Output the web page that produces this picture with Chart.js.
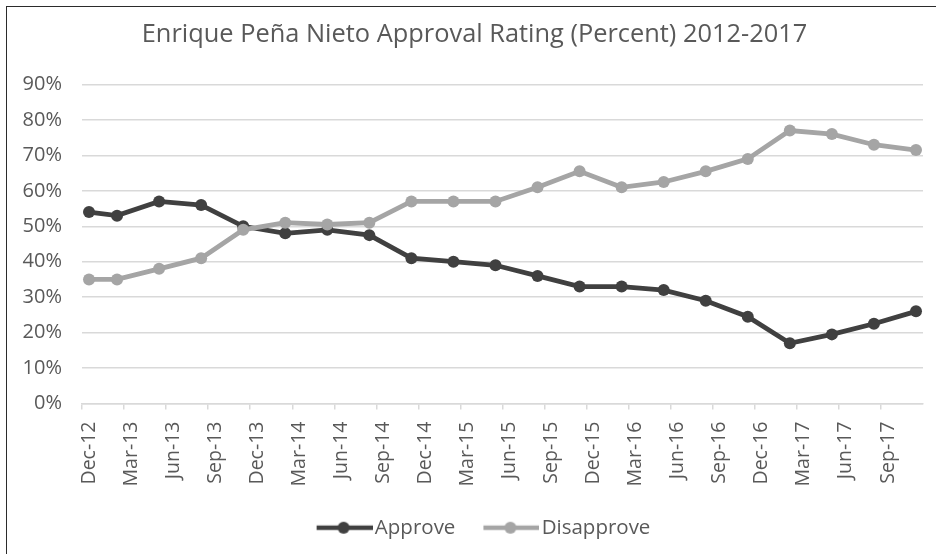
<!DOCTYPE html>
<html>
<head>
<meta charset="utf-8">
<script src="https://cdn.jsdelivr.net/npm/chart.js@4.4.1/dist/chart.umd.min.js"></script>
<style>
  html, body { margin: 0; padding: 0; background: #fff; }
  #wrap { position: relative; width: 936px; height: 554px; }
</style>
</head>
<body>
<div id="wrap"><canvas id="c" width="936" height="554"></canvas></div>
<script>
// Axis months (category axis, one per month)
const axisMonths = [
  'Dec-12','Jan-13','Feb-13','Mar-13','Apr-13','May-13','Jun-13','Jul-13','Aug-13','Sep-13','Oct-13','Nov-13',
  'Dec-13','Jan-14','Feb-14','Mar-14','Apr-14','May-14','Jun-14','Jul-14','Aug-14','Sep-14','Oct-14','Nov-14',
  'Dec-14','Jan-15','Feb-15','Mar-15','Apr-15','May-15','Jun-15','Jul-15','Aug-15','Sep-15','Oct-15','Nov-15',
  'Dec-15','Jan-16','Feb-16','Mar-16','Apr-16','May-16','Jun-16','Jul-16','Aug-16','Sep-16','Oct-16','Nov-16',
  'Dec-16','Jan-17','Feb-17','Mar-17','Apr-17','May-17','Jun-17','Jul-17','Aug-17','Sep-17','Oct-17','Nov-17'
];
// Survey dates of the data points
const surveyDates = [
  'Dec-12','Feb-13','May-13','Aug-13','Nov-13','Feb-14','May-14','Aug-14','Nov-14','Feb-15','May-15',
  'Aug-15','Nov-15','Feb-16','May-16','Aug-16','Nov-16','Feb-17','May-17','Aug-17','Nov-17'
];
const approve = [54, 53, 57, 56, 50, 48, 49, 47.5, 41, 40, 39, 36, 33, 33, 32, 29, 24.5, 17, 19.5, 22.5, 26];
const disapprove = [35, 35, 38, 41, 49, 51, 50.5, 51, 57, 57, 57, 61, 65.5, 61, 62.5, 65.5, 69, 77, 76, 73, 71.5];
const yTicks = [0, 10, 20, 30, 40, 50, 60, 70, 80, 90];
const titleText = 'Enrique Peña Nieto Approval Rating (Percent) 2012-2017';
const seriesNames = ['Approve', 'Disapprove'];
const seriesColors = ['#404040', '#a5a5a5'];

const FONT = "'Open Sans', 'DejaVu Sans', sans-serif";
const TEXT = '#595959';

function legendImage(color) {
  const cv = document.createElement('canvas');
  const L = 26, seg = 56;
  cv.width = L + seg; cv.height = 16;
  const g = cv.getContext('2d');
  g.strokeStyle = color; g.lineWidth = 4.7;
  g.beginPath(); g.moveTo(L, 8); g.lineTo(L + seg, 8); g.stroke();
  g.fillStyle = color;
  g.beginPath(); g.arc(L + seg / 2 - 1, 8, 6, 0, Math.PI * 2); g.fill();
  return cv;
}
const legendImgs = seriesColors.map(legendImage);

const frame = {
  id: 'frame',
  beforeDraw(chart) {
    const ctx = chart.ctx;
    ctx.save();
    ctx.fillStyle = '#fff';
    ctx.fillRect(0, 0, chart.width, chart.height);
    ctx.restore();
  },
  afterDraw(chart) {
    const ctx = chart.ctx;
    ctx.save();
    ctx.strokeStyle = '#2b2b2b';
    ctx.lineWidth = 1;
    ctx.strokeRect(6.5, 6.5, 2000, 2000);
    ctx.restore();
  }
};

const mk = (vals) => surveyDates.map((d, i) => ({ x: d, y: vals[i] }));

new Chart(document.getElementById('c'), {
  type: 'line',
  data: {
    labels: axisMonths,
    datasets: [
      { label: seriesNames[0], data: mk(approve), borderColor: seriesColors[0], backgroundColor: seriesColors[0],
        pointBackgroundColor: seriesColors[0], pointBorderWidth: 0, pointRadius: 6, borderWidth: 4.8, tension: 0, order: 1 },
      { label: seriesNames[1], data: mk(disapprove), borderColor: seriesColors[1], backgroundColor: seriesColors[1],
        pointBackgroundColor: seriesColors[1], pointBorderWidth: 0, pointRadius: 6, borderWidth: 4.8, tension: 0, order: 0 }
    ]
  },
  options: {
    responsive: false,
    animation: false,
    devicePixelRatio: 1,
    layout: { padding: { left: 13, right: 0, top: 5, bottom: 6 } },
    plugins: {
      tooltip: { enabled: false },
      title: {
        display: true, text: titleText, color: TEXT,
        font: { family: FONT, size: 25.4, weight: 'normal', lineHeight: 1.2 },
        padding: { top: 15, bottom: 34 }
      },
      legend: {
        position: 'bottom',
        labels: {
          color: TEXT,
          font: { family: FONT, size: 20.5 },
          usePointStyle: true,
          pointStyleWidth: 66,
          boxHeight: 20.5,
          padding: 10,
          generateLabels: () => seriesNames.map((n, i) => ({
            text: n, fillStyle: seriesColors[i], strokeStyle: seriesColors[i], lineWidth: 0,
            pointStyle: legendImgs[i], hidden: false, datasetIndex: i, fontColor: TEXT
          }))
        }
      }
    },
    scales: {
      x: {
        type: 'category',
        offset: true,
        afterFit: (s) => { s.height = 104; s.paddingLeft = 0; s.paddingRight = 13; },
        grid: {
          offset: true,
          drawOnChartArea: false,
          drawTicks: true,
          tickLength: 6,
          lineWidth: 1.5,
          color: (c) => (c.index % 3 === 0 ? '#d9d9d9' : 'rgba(0,0,0,0)')
        },
        border: { display: true, color: '#d9d9d9', width: 1.5 },
        ticks: {
          autoSkip: false, maxRotation: 90, minRotation: 90, padding: 12,
          color: TEXT, font: { family: FONT, size: 19.5 },
          callback: (v, i) => (i % 3 === 0 ? axisMonths[i] : '')
        }
      },
      y: {
        min: yTicks[0], max: yTicks[yTicks.length - 1],
        afterFit: (s) => { s.width = 69; },
        afterBuildTicks: (s) => { s.ticks = yTicks.map(v => ({ value: v })); },
        grid: { color: '#d9d9d9', lineWidth: 1.5, drawTicks: false },
        border: { display: false },
        ticks: {
          padding: 20, color: TEXT, font: { family: FONT, size: 20 },
          callback: (v) => v + '%'
        }
      }
    }
  },
  plugins: [frame]
});
</script>
</body>
</html>
